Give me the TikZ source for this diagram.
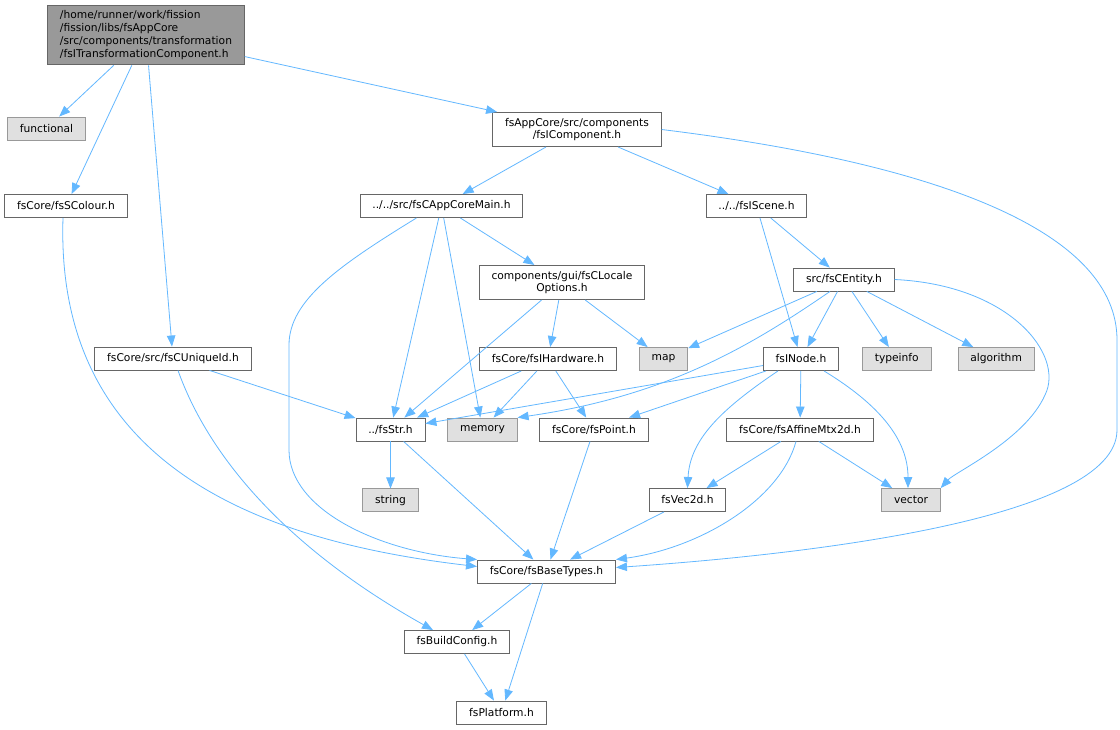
\documentclass[tikz,border=0pt]{standalone}
\usepackage{fontspec}
\setmainfont{DejaVu Sans}
\usetikzlibrary{arrows.meta,positioning}
\definecolor{edgeblue}{HTML}{63B8FF}
\definecolor{boxline}{HTML}{666666}
\definecolor{sysline}{HTML}{999999}
\definecolor{sysfill}{HTML}{E0E0E0}
\definecolor{mainfill}{HTML}{999999}

\begin{document}
\begin{tikzpicture}[x=1pt, y=-1pt, font=\fontsize{10.7}{12.8}\selectfont]
    \tikzstyle{file} = [rectangle, draw=boxline, fill=white, inner xsep=12.3pt, inner ysep=5.5pt, minimum height=23pt, line width=0.9pt]
    \tikzstyle{sysfile} = [file, draw=sysline, fill=sysfill]
    \tikzstyle{arrow} = [draw=edgeblue, line width=0.8pt, -{Triangle[length=11pt,width=8.5pt,fill=edgeblue]}]

    \fill [white] (0,0) rectangle (1120,729);
    \useasboundingbox (0,0) rectangle (1120,729);

    \node [file, fill=mainfill, align=left] (main) at (146,35) {/home/runner/work/fission\\/fission/libs/fsAppCore\\/src/components/transformation\\/fsITransformationComponent.h};
    \node [sysfile] (functional) at (46.5,128.5) {functional};
    \node [file] (colour) at (66,206) {fsCore/fsSColour.h};
    \node [file] (uniqueid) at (173,358.5) {fsCore/src/fsCUniqueId.h};
    \node [file, align=center] (component) at (577,129.5) {fsAppCore/src/components\\/fsIComponent.h};
    \node [file] (appcore) at (441.5,206) {../../src/fsCAppCoreMain.h};
    \node [file] (scene) at (756.5,206) {../../fsIScene.h};
    \node [file, align=center] (locale) at (562,282.5) {components/gui/fsCLocale\\Options.h};
    \node [file] (entity) at (844,279.5) {src/fsCEntity.h};
    \node [file] (hardware) at (548,359) {fsCore/fsIHardware.h};
    \node [sysfile] (map) at (663.5,359) {map};
    \node [file] (inode) at (801,359) {fsINode.h};
    \node [sysfile, right=23pt of inode] (typeinfo) {typeinfo};
    \node [sysfile, right=26pt of typeinfo] (algorithm) {algorithm};
    \node [file] (str) at (390.5,429.5) {../fsStr.h};
    \node [sysfile] (memory) at (482.5,429.5) {memory};
    \node [file] (point) at (594,429.5) {fsCore/fsPoint.h};
    \node [file] (affine) at (800,429.5) {fsCore/fsAffineMtx2d.h};
    \node [sysfile, below=47pt of str] (string) {string};
    \node [file] (vec) at (687.5,500) {fsVec2d.h};
    \node [sysfile] (vector) at (911,500) {vector};
    \node [file] (basetypes) at (546.5,571.5) {fsCore/fsBaseTypes.h};
    \node [file] (buildconfig) at (457,642) {fsBuildConfig.h};
    \node [file] (platform) at (501.5,712.5) {fsPlatform.h};

    \draw [arrow] (main) -- (functional);
    \draw [arrow] (main) -- (colour);
    \draw [arrow] (main) -- (uniqueid);
    \draw [arrow] (main) -- (component);
    \draw [arrow] (component) -- (appcore);
    \draw [arrow] (component) -- (scene);
    \draw [arrow] (component.east) .. controls (950,165) and (1117,235) .. (1117,340) -- (1117,430) .. controls (1117,520) and (800,555) .. ([yshift=4pt]basetypes.east);
    \draw [arrow] ([xshift=-3pt]colour.south) .. controls (55,460) and (250,540) .. ([yshift=5pt]basetypes.west);
    \draw [arrow] (uniqueid) -- (str);
    \draw [arrow] ([xshift=5pt]uniqueid.south) .. controls (210,460) and (290,550) .. ([xshift=-24pt]buildconfig.north);
    \draw [arrow] (appcore) -- (locale);
    \draw [arrow] (appcore) -- (str);
    \draw [arrow] (appcore) -- (memory);
    \draw [arrow] ([xshift=-25pt]appcore.south) .. controls (340,265) and (289,300) .. (289,345) -- (289,450) .. controls (289,510) and (380,552) .. (basetypes.north west);
    \draw [arrow] (locale) -- (str);
    \draw [arrow] (locale) -- (hardware);
    \draw [arrow] (locale) -- (map);
    \draw [arrow] (hardware) -- (str);
    \draw [arrow] (hardware) -- (memory);
    \draw [arrow] (hardware) -- (point);
    \draw [arrow] (scene) -- (inode);
    \draw [arrow] (scene) -- (entity);
    \draw [arrow] (entity) -- (map);
    \draw [arrow] ([xshift=-14pt]entity.south) .. controls (752,345) and (668,396) .. (memory.north east);
    \draw [arrow] (entity) -- (inode);
    \draw [arrow] (entity) -- (typeinfo);
    \draw [arrow] (entity) -- (algorithm);
    \draw [arrow] (entity.east) .. controls (1010,285) and (1065,355) .. (1045,395) .. controls (1025,440) and (955,472) .. (vector.north east);
    \draw [arrow] (inode) -- (str);
    \draw [arrow] (inode) -- (point);
    \draw [arrow] ([xshift=-23pt]inode.south) .. controls (720,410) and (690,440) .. (vec.north);
    \draw [arrow] (inode) -- (affine);
    \draw [arrow] ([xshift=23pt]inode.south) .. controls (880,405) and (908,440) .. ([xshift=-3pt]vector.north);
    \draw [arrow] (str) -- (string);
    \draw [arrow] (str) -- (basetypes);
    \draw [arrow] (point) -- (basetypes);
    \draw [arrow] (affine) -- (vec);
    \draw [arrow] (affine) -- (vector);
    \draw [arrow] ([xshift=-4pt]affine.south) .. controls (780,500) and (700,548) .. (basetypes.north east);
    \draw [arrow] (vec) -- (basetypes);
    \draw [arrow] (basetypes) -- (buildconfig);
    \draw [arrow] (basetypes) -- (platform);
    \draw [arrow] (buildconfig) -- (platform);

\end{tikzpicture}
\end{document}
